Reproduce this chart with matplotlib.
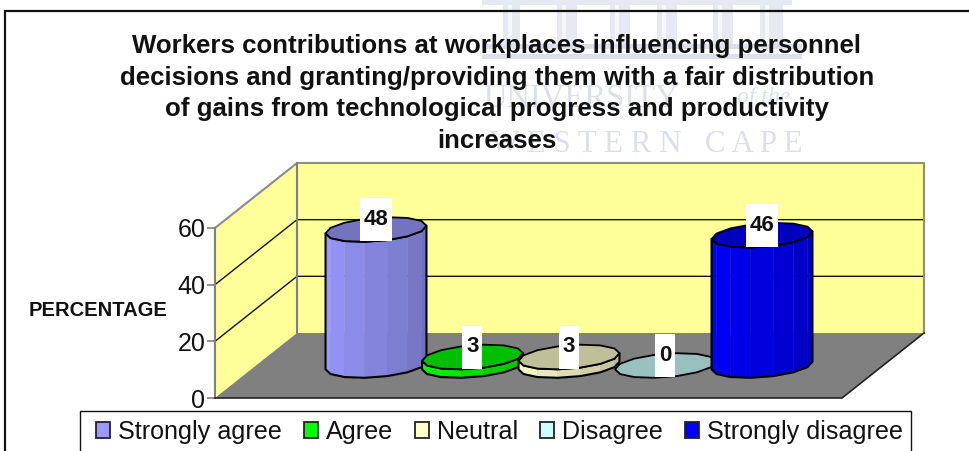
import numpy as np
import matplotlib
matplotlib.use("Agg")
import matplotlib.pyplot as plt
from matplotlib.patches import Polygon, Rectangle, Patch

plt.rcParams['font.family'] = ['Liberation Sans', 'DejaVu Sans']

categories = ["Strongly agree", "Agree", "Neutral", "Disagree", "Strongly disagree"]
values = [48, 3, 3, 0, 46]
side_colors = ["#9999FF", "#00FF00", "#FFFFCC", "#CCFFFF", "#0000FF"]
top_colors = ["#7373BF", "#00BF00", "#BFBF99", "#99BFBF", "#0000BF"]
yticks = [0, 20, 40, 60]
title = ("Workers contributions at workplaces influencing personnel\n"
         "decisions and granting/providing them with a fair distribution\n"
         "of gains from technological progress and productivity\n"
         "increases")
ylabel = "PERCENTAGE"

W, H = 970, 451
fig = plt.figure(figsize=(W / 100, H / 100), dpi=100, facecolor="white")

# background layer in pixels: page border and faint scanned watermark
bg = fig.add_axes([0, 0, 1, 1], zorder=0)
bg.set_xlim(0, W)
bg.set_ylim(H, 0)
bg.axis("off")
WM = "#DDE0EC"
for a, b in [(503, 520), (557, 577), (610, 630), (657, 677), (713, 733), (760, 783)]:
    bg.add_patch(Rectangle((a, 0), b - a, 46, fc="#E6E8F2", ec="none"))
    bg.add_patch(Rectangle((a + 5, 0), 4, 46, fc="#F6F7FB", ec="none"))
bg.add_patch(Rectangle((482, 0), 310, 5, fc="#E6E8F2", ec="none"))
bg.add_patch(Rectangle((482, 44), 320, 5, fc=WM, ec="none"))
bg.add_patch(Rectangle((482, 54), 320, 5, fc=WM, ec="none"))
bg.text(483, 98, "UNIVERSITY", family="Liberation Serif", fontsize=23.5, color=WM, va="center")
bg.text(737, 98, "of the", family="Liberation Serif", style="italic", fontsize=17, color=WM, va="center")
bg.text(646, 144, "W E S T E R N   C A P E", family="Liberation Serif", fontsize=22.3, color=WM,
        va="center", ha="center")
bg.plot([4, 970], [10.5, 10.5], color="#111111", lw=1.6, solid_capstyle="butt")
bg.plot([5, 5], [10, 451], color="#111111", lw=1.6, solid_capstyle="butt")
bg.add_patch(Rectangle((80.5, 410.5), 831, 60, fc="white", ec="#111111", lw=1))

# chart: front plane of the oblique 3-D box
ax = fig.add_axes([215 / W, (H - 398) / H, 627 / W, 170 / H], zorder=2)
ax.patch.set_alpha(0)
PX = 96.5                # pixels per series slot
PY = 170 / 60            # pixels per value unit
ax.set_xlim(-120 / PX, 507 / PX)
ax.set_ylim(0, 60)
for s in ax.spines.values():
    s.set_visible(False)
ax.set_xticks([])
ax.set_yticks(yticks)
ax.tick_params(axis="y", length=6, width=1.2, color="#808080", labelsize=18, pad=1, labelcolor="#111111")

DX, DY = 82 / PX, 65 / PY
x0, x1 = ax.get_xlim()


def depth(x, v, d):
    return (x + d * DX, v + d * DY)


kw = dict(clip_on=False)
ax.add_patch(Polygon([depth(x0, 0, 1), depth(x1, 0, 1), depth(x1, 60, 1), depth(x0, 60, 1)],
                     fc="#FFFF99", ec="none", zorder=1, **kw))
ax.add_patch(Polygon([depth(x0, 0, 0), depth(x0, 0, 1), depth(x0, 60, 1), depth(x0, 60, 0)],
                     fc="#FFFF99", ec="none", zorder=1, **kw))
ax.add_patch(Polygon([depth(x0, 0, 0), depth(x1, 0, 0), depth(x1, 0, 1), depth(x0, 0, 1)],
                     fc="#808080", ec="none", zorder=2, **kw))
for t in yticks[1:-1]:
    pts = np.array([depth(x0, t, 0), depth(x0, t, 1), depth(x1, t, 1)])
    ax.plot(pts[:, 0], pts[:, 1], color="#111111", lw=1, zorder=1.5, **kw)
pts = np.array([depth(x0, 60, 0), depth(x0, 60, 1), depth(x1, 60, 1), depth(x1, 0, 1)])
ax.plot(pts[:, 0], pts[:, 1], color="#8C8C8C", lw=1.5, zorder=1.6, **kw)
pts = np.array([depth(x0, 0, 0), depth(x0, 60, 0)])
ax.plot(pts[:, 0], pts[:, 1], color="#808080", lw=1.5, zorder=3, **kw)
pts = np.array([depth(x0, 0, 1), depth(x0, 60, 1)])
ax.plot(pts[:, 0], pts[:, 1], color="#808080", lw=1.5, zorder=1.6, **kw)
pts = np.array([depth(x0, 0, 0), depth(x1, 0, 0), depth(x1, 0, 1)])
ax.plot(pts[:, 0], pts[:, 1], color="#222222", lw=1.2, zorder=3, **kw)

# cylinders
R_X, R_D = 48 / PX, 0.19
N = 14


def ring(x, v, t):
    return np.column_stack([x + 0.5 * DX + R_X * np.cos(t) + R_D * DX * np.sin(t),
                            v + 0.5 * DY + R_D * DY * np.sin(t)])


t0 = np.arctan2(R_D * DX, R_X)
order = sorted(range(len(values)), key=lambda i: (values[i] > 0, i))
for rank, i in enumerate(order):
    z = 4 + rank
    v = values[i]
    base = np.array(matplotlib.colors.to_rgb(side_colors[i]))
    arc = np.linspace(t0 - np.pi, t0, N // 2 + 1)
    low, high = ring(i, 0, arc), ring(i, v, arc)
    if v > 0:
        for k in range(len(arc) - 1):
            shade = 1 - 0.27 * k / (len(arc) - 2)
            ax.add_patch(Polygon([low[k], low[k + 1], high[k + 1], high[k]],
                                 fc=base * shade, ec=base * shade, lw=0.3, zorder=z, **kw))
        ax.add_patch(Polygon(np.vstack([low, high[::-1]]), fc="none", ec="black", lw=1.5,
                             joinstyle="round", zorder=z, **kw))
    full = np.linspace(0, 2 * np.pi, N, endpoint=False) + t0
    ax.add_patch(Polygon(ring(i, v, full), fc=top_colors[i], ec="black", lw=1.3,
                         joinstyle="round", zorder=z, **kw))

for i, v in enumerate(values):
    label = str(v)
    w = (32 if len(label) == 2 else 20) / PX
    h = 43 / PY
    cx, cy = i + 0.5 * DX, v + 0.5 * DY + 10 / PY
    ax.add_patch(Rectangle((cx - w / 2, cy - h / 2), w, h, fc="white", ec="none", zorder=20, **kw))
    ax.text(cx, cy, label, ha="center", va="center", fontsize=16, fontweight="bold",
            color="#111111", zorder=21)

ax.set_ylabel(ylabel, rotation=0, fontsize=14.5, fontweight="bold", color="#111111", ha="center", va="center")
ax.yaxis.set_label_coords((98 - 215) / 627, (398 - 311) / 170)

fig.text(497 / W, 1 - 93.5 / H, title, ha="center", va="center", fontsize=18.6, fontweight="bold",
         color="#111111", linespacing=1.41, zorder=5)

handles = [Patch(fc=c, ec="#222222", lw=1.3) for c in side_colors]
fig.legend(handles, categories, ncol=5, loc="upper left",
           bbox_to_anchor=(96 / W, 1 - 420 / H), bbox_transform=fig.transFigure,
           frameon=False, fontsize=18.1, borderpad=0, borderaxespad=0,
           handlelength=0.56, handleheight=0.56, handletextpad=0.32,
           columnspacing=0.87, labelcolor="#111111")

fig.savefig("out.png", dpi=100)
